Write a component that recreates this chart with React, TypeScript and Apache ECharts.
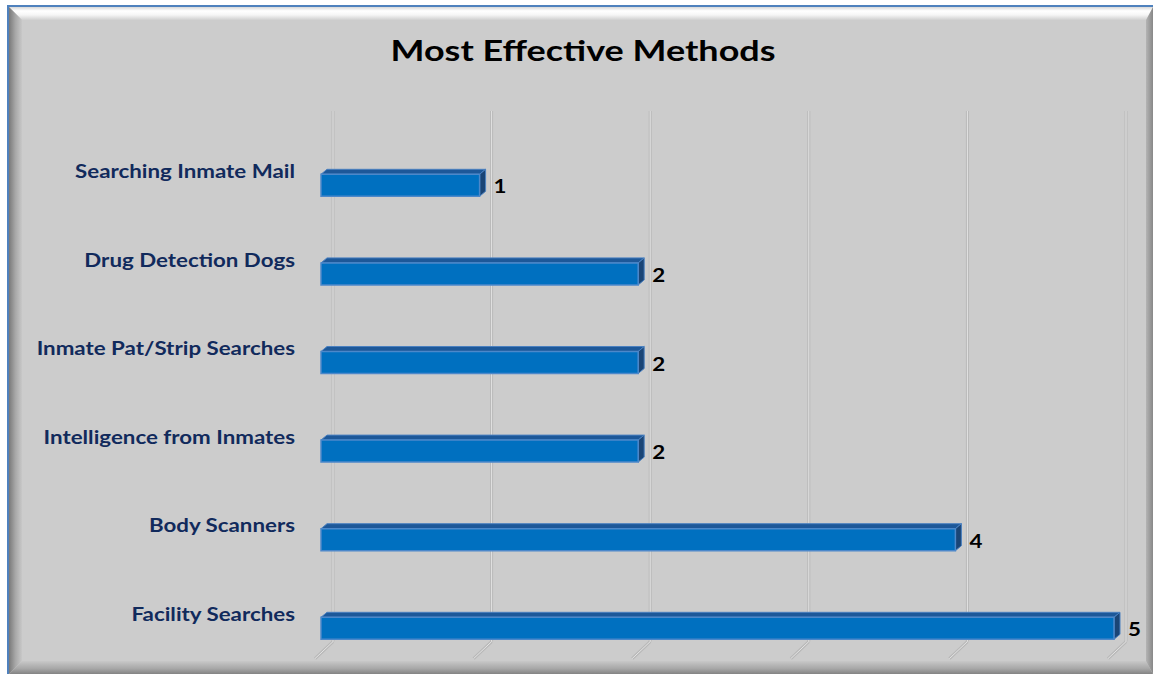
import { useEffect, useRef } from 'react';
import * as echarts from 'echarts';

const chartTitle = 'Most Effective Methods';
const categories = [
  'Facility Searches',
  'Body Scanners',
  'Intelligence from Inmates',
  'Inmate Pat/Strip Searches',
  'Drug Detection Dogs',
  'Searching Inmate Mail',
];
const values = [5, 4, 2, 2, 2, 1];
const ticks = [0, 1, 2, 3, 4, 5];

const FONT = 'Lato, "Open Sans", sans-serif';
const SX = 1.24;

export default function App() {
  const ref = useRef<HTMLDivElement>(null);
  useEffect(() => {
    if (!ref.current) return;
    const chart = echarts.init(ref.current, null, { renderer: 'svg' });
    const W = 1153, H = 674;
    const option: any = {
      animation: false,
      backgroundColor: '#ffffff',
      graphic: [
        { type: 'rect', z: -10, shape: { x: 7, y: 5, width: W, height: H }, style: { fill: '#4F81BD' } },
        { type: 'rect', z: -10, shape: { x: 9, y: 7, width: W, height: H }, style: { fill: '#CCCCCC' } },
        {
          type: 'polygon', z: -9,
          shape: { points: [[9, 7], [W, 7], [W, 20], [22, 20]] },
          style: {
            fill: new echarts.graphic.LinearGradient(0, 0, 0, 1, [
              { offset: 0, color: '#d8d8d8' },
              { offset: 0.3, color: '#ffffff' },
              { offset: 0.6, color: '#f6f6f6' },
              { offset: 1, color: '#cfcfcf' },
            ]),
          },
        },
        {
          type: 'polygon', z: -9,
          shape: { points: [[9, 7], [22, 20], [22, 661], [9, 674]] },
          style: {
            fill: new echarts.graphic.LinearGradient(0, 0, 1, 0, [
              { offset: 0, color: '#7a7a7a' },
              { offset: 0.5, color: '#a8a8a8' },
              { offset: 1, color: '#c8c8c8' },
            ]),
          },
        },
        {
          type: 'polygon', z: -9,
          shape: { points: [[9, 674], [22, 661], [1146, 661], [W, 674]] },
          style: {
            fill: new echarts.graphic.LinearGradient(0, 0, 0, 1, [
              { offset: 0, color: '#c8c8c8' },
              { offset: 0.6, color: '#a6a6a6' },
              { offset: 1, color: '#838383' },
            ]),
          },
        },
        {
          type: 'polygon', z: -9,
          shape: { points: [[W, 7], [W, 674], [1146, 661], [1146, 20]] },
          style: {
            fill: new echarts.graphic.LinearGradient(0, 0, 1, 0, [
              { offset: 0, color: '#b4b4b4' },
              { offset: 1, color: '#888888' },
            ]),
          },
        },
        {
          type: 'text',
          z: 10,
          x: 583,
          y: 50,
          scaleX: SX,
          style: {
            text: chartTitle,
            x: 0,
            y: 0,
            align: 'center',
            verticalAlign: 'middle',
            fontFamily: FONT,
            fontWeight: 'bold',
            fontSize: 29,
            fill: '#000000',
          },
        },
      ],
      grid: { left: 321, width: 793, top: 141, height: 531.6 },
      xAxis: {
        type: 'value', min: 0, max: 5, interval: 1,
        axisLabel: { show: false }, axisLine: { show: false }, axisTick: { show: false }, splitLine: { show: false },
      },
      yAxis: {
        type: 'category',
        data: categories,
        axisLine: { show: false },
        axisTick: { show: false },
        axisLabel: { show: false },
      },
      series: [
        {
          type: 'custom',
          z: 1,
          silent: true,
          clip: false,
          data: ticks.map((t) => [t, 0]),
          encode: { x: 0, y: 1 },
          renderItem: (params: any, api: any) => {
            const cs = params.coordSys;
            const x = api.coord([api.value(0), 0])[0] + 12;
            const top = cs.y - 30;
            const bottom = cs.y + cs.height - 31;
            const outer = { stroke: '#b8b8b8', lineWidth: 3 };
            const inner = { stroke: '#e4e4e4', lineWidth: 1 };
            return {
              type: 'group',
              children: [
                { type: 'line', shape: { x1: x, y1: top, x2: x, y2: bottom }, style: outer },
                { type: 'line', shape: { x1: x, y1: bottom, x2: x - 18, y2: bottom + 17 }, style: outer },
                { type: 'line', shape: { x1: x, y1: top, x2: x, y2: bottom }, style: inner },
                { type: 'line', shape: { x1: x, y1: bottom, x2: x - 18, y2: bottom + 17 }, style: inner },
              ],
            };
          },
        },
        {
          type: 'custom',
          z: 5,
          silent: true,
          clip: false,
          data: values.map((v, i) => [v, i]),
          encode: { x: 0, y: 1 },
          renderItem: (params: any, api: any) => {
            const v = api.value(0);
            const idx = api.value(1);
            const s = api.coord([0, idx]);
            const e = api.coord([v, idx]);
            const h = 22, dx = 6, dy = 5;
            const x0 = s[0], x1 = e[0];
            const yc = s[1];
            const yt = yc - h / 2, yb = yc + h / 2;
            return {
              type: 'group',
              children: [
                {
                  type: 'polygon',
                  shape: { points: [[x0, yt], [x0 + dx, yt - dy], [x1 + dx, yt - dy], [x1, yt]] },
                  style: { fill: '#1D5899', stroke: '#4A80C0', lineWidth: 1 },
                },
                {
                  type: 'polygon',
                  shape: { points: [[x1, yt], [x1 + dx, yt - dy], [x1 + dx, yb - dy], [x1, yb]] },
                  style: { fill: '#1A4576', stroke: '#4A80C0', lineWidth: 1 },
                },
                {
                  type: 'rect',
                  shape: { x: x0, y: yt, width: x1 - x0, height: h },
                  style: { fill: '#0070C0', stroke: '#4C88CA', lineWidth: 1.5 },
                },
                {
                  type: 'text',
                  x: x1 + 14,
                  y: yc + 1,
                  scaleX: SX,
                  style: {
                    text: String(v),
                    x: 0,
                    y: 0,
                    verticalAlign: 'middle',
                    align: 'left',
                    fontFamily: FONT,
                    fontWeight: 'bold',
                    fontSize: 18,
                    fill: '#000000',
                  },
                },
                {
                  type: 'text',
                  x: x0 - 26,
                  y: yc - 14.5,
                  scaleX: SX,
                  style: {
                    text: categories[idx],
                    x: 0,
                    y: 0,
                    verticalAlign: 'middle',
                    align: 'right',
                    fontFamily: FONT,
                    fontWeight: 'bold',
                    fontSize: 18,
                    fill: '#112A5C',
                  },
                },
              ],
            };
          },
        },
      ],
    };
    chart.setOption(option);
    return () => chart.dispose();
  }, []);
  return (
    <div
      ref={ref}
      style={{ position: 'fixed', left: 0, top: 0, width: 1153, height: 674 }}
    />
  );
}
